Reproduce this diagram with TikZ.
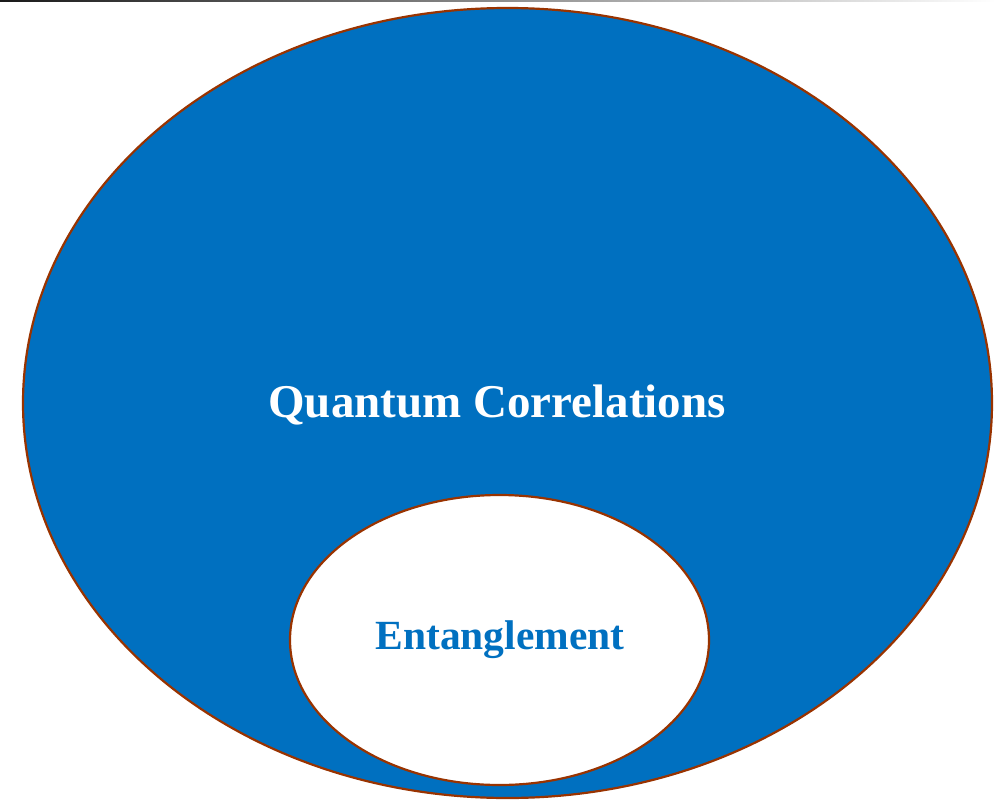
\documentclass[tikz,border=0pt]{standalone}
\usepackage{fontspec}
\setmainfont{Liberation Serif}
\usetikzlibrary{shapes.geometric}
\definecolor{qblue}{HTML}{0070C0}
\definecolor{rim}{HTML}{993300}
\tikzset{
  blob/.style={ellipse, draw=rim, line width=2.2pt, inner sep=0pt},
  lbl/.style={font=\fontsize{47}{54}\selectfont\bfseries},
  every picture/.style={line cap=round, line join=round}
}

\begin{document}
\begin{tikzpicture}[x=1pt, y=-1pt]
  \useasboundingbox (0,0) rectangle (996,800);
  \shade[left color=black!90, right color=white] (0,0) rectangle (996,2);

  \node[blob, fill=qblue, minimum width=969pt, minimum height=790pt] (outer) at (507.5,403) {};
  \node[blob, fill=white, minimum width=419pt, minimum height=290pt] (inner) at (499.5,640) {};

  \node[lbl, text=white] (qc) at (497,405) {Quantum Correlations};
  \node[lbl, text=qblue, font=\fontsize{41.5}{48}\selectfont\bfseries] (ent) at (500,640) {Entanglement};
\end{tikzpicture}
\end{document}
